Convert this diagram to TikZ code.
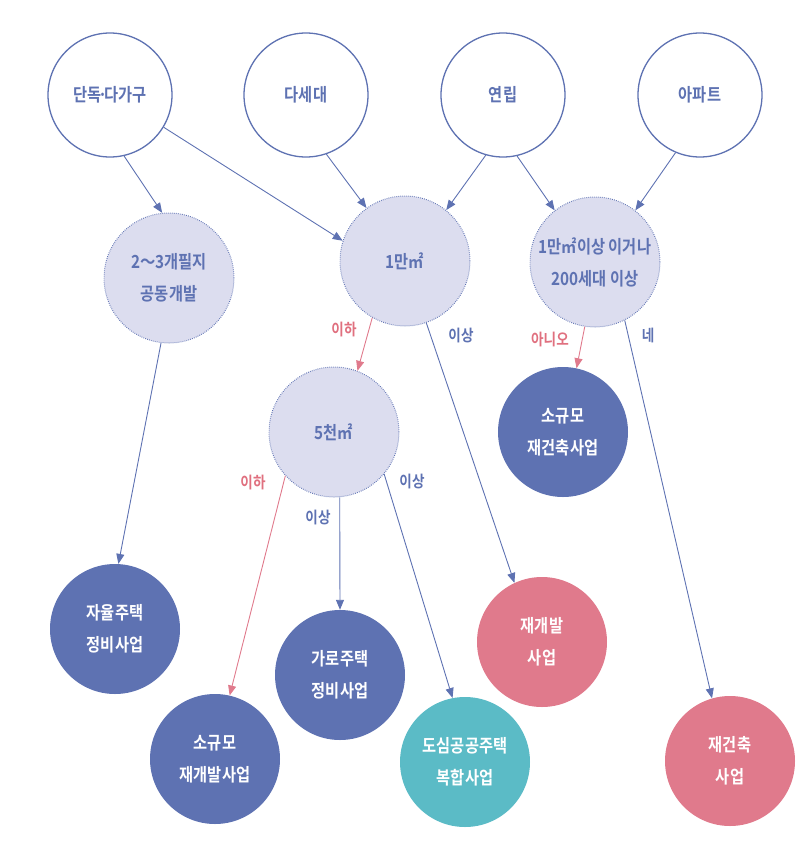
\documentclass[tikz,border=0pt]{standalone}
\usepackage{fontspec}
\setmainfont{Noto Sans CJK KR}[BoldFont=* Bold, FakeStretch=0.85]
\usetikzlibrary{arrows.meta}
\definecolor{dblue}{HTML}{5E72B2}
\definecolor{lav}{HTML}{DCDDEF}
\definecolor{pinkc}{HTML}{E07A8C}
\definecolor{tealc}{HTML}{5BBBC6}
\definecolor{pinkt}{HTML}{E0707F}
\begin{document}
\begin{tikzpicture}[x=1pt,y=-1pt,
 txt/.style={font=\fontsize{18}{32}\selectfont\bfseries, align=center},
 topc/.style={circle, draw=dblue, line width=1.3pt, fill=white, minimum size=124pt, inner sep=0pt, txt, text=dblue},
 condc/.style={circle, draw=dblue, line width=1pt, dash pattern=on 0.7pt off 1.3pt, fill=lav, minimum size=130pt, inner sep=0pt, txt, text=dblue},
 resc/.style={circle, minimum size=130pt, inner sep=0pt, txt, text=white},
 arr/.style={draw=dblue, line width=0.9pt, -{Triangle[length=10pt,width=8pt]}},
 parr/.style={arr, draw=pinkc},
 lbl/.style={font=\fontsize{16}{16}\selectfont\bfseries, inner sep=0pt}
]
\useasboundingbox (0,0) rectangle (796,852);
% top
\node[topc] (dan) at (110,95) {단독{\kern-3pt·\kern-3pt}다가구};
\node[topc] (dase) at (306,95) {다세대};
\node[topc] (yeon) at (503,95) {연립};
\node[topc] (apt) at (700,95) {아파트};
% conditions
\node[condc] (pil) at (169,278) {2～3개필지\\공동개발};
\node[condc] (man) at (405,261) {1만㎡};
\node[condc] (cond) at (595,262) {1만㎡이상 이거나\\200세대 이상};
\node[condc] (cheon) at (334,432) {5천㎡};
% results
\node[resc, fill=dblue] (sgjg) at (563,432) {소규모\\재건축사업};
\node[resc, fill=dblue] (jayul) at (115,629) {자율주택\\정비사업};
\node[resc, fill=dblue] (garo) at (340,675) {가로주택\\정비사업};
\node[resc, fill=dblue] (sgjk) at (215,759) {소규모\\재개발사업};
\node[resc, fill=pinkc] (jaegae) at (542,642) {재개발\\사업};
\node[resc, fill=tealc] (dosim) at (465,762) {도심공공주택\\복합사업};
\node[resc, fill=pinkc] (jaegun) at (730,761) {재건축\\사업};
% arrows
\draw[arr] (dan.283) -- (pil.96);
\draw[arr] (dan.329) -- (man.162);
\draw[arr] (dase.289.5) -- (man.126);
\draw[arr] (yeon.254) -- (man.51);
\draw[arr] (yeon.283) -- (cond.128);
\draw[arr] (apt.247) -- (cond.52);
\draw[arr] (pil.263) -- (jayul.87);
\draw[parr] (man.240.5) -- (cheon.69);
\draw[arr] (man.289) -- (jaegae.115);
\draw[parr] (cond.261) -- (sgjg.78);
\draw[arr] (cond.297) -- (jaegun.106);
\draw[parr] (cheon.222.6) -- (sgjk.77);
\draw[arr] (cheon.275) -- (garo.north);
\draw[arr] (cheon.320) -- (dosim.101);
% labels
\node[lbl, text=pinkt] (l1) at (344,330) {이하};
\node[lbl, text=dblue] (l2) at (461,336) {이상};
\node[lbl, text=pinkt] (l3) at (550,340) {아니오};
\node[lbl, text=dblue] (l4) at (648,335) {네};
\node[lbl, text=pinkt] (l5) at (253,483) {이하};
\node[lbl, text=dblue] (l6) at (412,482) {이상};
\node[lbl, text=dblue] (l7) at (318,517) {이상};
\end{tikzpicture}
\end{document}
